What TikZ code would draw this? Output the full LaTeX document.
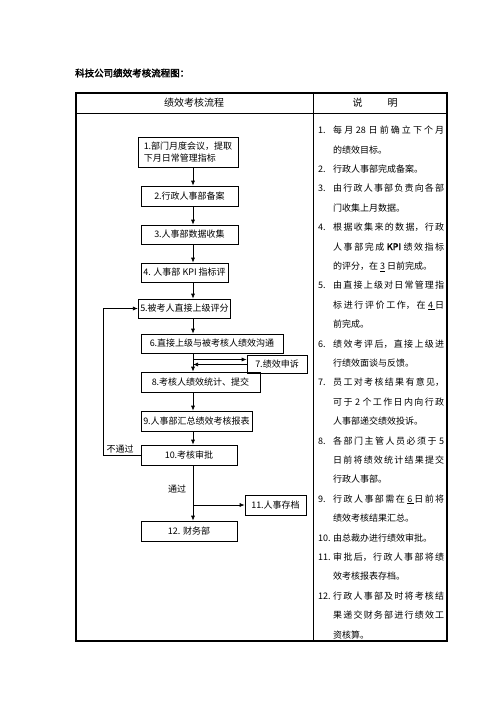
\documentclass[tikz,border=0pt]{standalone}
\usepackage{amsmath, amssymb}
\usepackage{xcolor}
\usepackage{fontspec}
\setmainfont{Noto Sans CJK SC}[BoldFont={Noto Sans CJK SC},BoldFeatures={FakeBold=2.5}]
\usepackage{tikz}
\usetikzlibrary{positioning, arrows.meta}
\XeTeXlinebreaklocale "zh"
\XeTeXlinebreakskip=0pt plus 3pt
\newcommand{\noteitem}[1]{\par\hangindent=15pt\hangafter=1\noindent\makebox[15pt][l]{#1}}

\begin{document}
\begin{tikzpicture}[x=1pt,y=-1pt]
	\tikzstyle{stepbox}=[draw=black,line width=0.6pt,inner sep=2pt,font=\fontsize{9}{12}\selectfont]
	\tikzstyle{flow}=[-{Latex[length=5pt,width=4pt]},line width=0.7pt]
	\useasboundingbox (0,0) rectangle (496,702);
	\node[anchor=west,inner sep=0pt,font=\fontsize{9.5}{12}\selectfont\bfseries](title) at (75,73){科技公司绩效考核流程图：};
	\draw[line width=0.6pt] (76,113) -- (447,113) (313,93) -- (313,641);
	\draw[line width=1.5pt] (76,93) rectangle (447,641);
	\node[font=\fontsize{10}{12}\selectfont](h1) at (194,103){绩效考核流程};
	\node[font=\fontsize{10}{12}\selectfont](h2) at (375,103){说\hspace{25pt}明};
	\coordinate (sp) at (193,0);
	\coordinate (lp) at (103,0);
	\node[stepbox,minimum width=100pt,minimum height=30pt,align=left](s1) at (188,152){1.部门月度会议，提取\\下月日常管理指标};
	\node[stepbox,minimum width=97pt,minimum height=20pt](s2) at (189.5,196){2.行政人事部备案};
	\node[stepbox,minimum width=97pt,minimum height=19pt](s3) at (189.5,234.5){3.人事部数据收集};
	\node[stepbox,minimum width=87pt,minimum height=19pt](s4) at (184.5,272.5){4. 人事部 KPI 指标评};
	\node[stepbox,minimum width=87pt,minimum height=19pt](s5) at (184.5,308.5){5.被考人直接上级评分};
	\node[stepbox,minimum width=142pt,minimum height=19pt](s6) at (212,343.5){6.直接上级与被考核人绩效沟通};
	\node[stepbox,minimum width=60pt,minimum height=18pt](s7) at (277,364){7.绩效申诉};
	\node[stepbox,minimum width=119pt,minimum height=20pt](s8) at (200.5,382){8.考核人绩效统计、提交};
	\node[stepbox,minimum width=111pt,minimum height=20pt](s9) at (196.5,421){9.人事部汇总绩效考核报表};
	\node[stepbox,minimum width=96pt,minimum height=20pt](s10) at (189,455){10.考核审批};
	\node[stepbox,minimum width=61pt,minimum height=20pt](s11) at (275.5,505){11.人事存档};
	\node[stepbox,minimum width=96pt,minimum height=20pt](s12) at (189,531){12. 财务部};
	\node[font=\fontsize{9}{12}\selectfont](no) at (120,449){不通过};
	\node[font=\fontsize{9}{12}\selectfont](yes) at (177,489){通过};
	\coordinate (a7) at (193,359.5);
	\coordinate (r7) at (193,364.5);
	\path[flow]
		(s1.south -| sp) edge (s2.north -| sp)
		(s2.south -| sp) edge (s3.north -| sp)
		(s3.south -| sp) edge (s4.north -| sp)
		(s4.south -| sp) edge (s5.north -| sp)
		(s5.south -| sp) edge (s6.north -| sp)
		(s6.south -| sp) edge (s8.north -| sp)
		(a7) edge (a7 -| s7.west)
		(r7 -| s7.west) edge (r7)
		(s8.south -| sp) edge (s9.north -| sp)
		(s9.south -| sp) edge (s10.north -| sp)
		(s10.south -| sp) edge (s12.north -| sp)
		(s11.west -| sp) edge (s11.west);
	\draw[flow] (s10.west) -- (s10.west -| lp) |- (s5.west);
	\node[anchor=north west,inner sep=0pt,text width=126pt,align=justify,font=\fontsize{9}{19.4}\selectfont](notes) at (318,114){%
		\noteitem{1.}每月 28 日前确立下个月\linebreak 的绩效目标。
		\noteitem{2.}行政人事部完成备案。
		\noteitem{3.}由行政人事部负责向各部\linebreak 门收集上月数据。
		\noteitem{4.}根据收集来的数据，行政\linebreak 人事部完成 \textbf{KPI} 绩效指标\linebreak 的评分，在 \underline{3} 日前完成。
		\noteitem{5.}由直接上级对日常管理指\linebreak 标进行评价工作，在 \underline{4\ }日\linebreak 前完成。
		\noteitem{6.}绩效考评后，直接上级进\linebreak 行绩效面谈与反馈。
		\noteitem{7.}员工对考核结果有意见，\linebreak 可于 2 个工作日内向行政\linebreak 人事部递交绩效投诉。
		\noteitem{8.}各部门主管人员必须于 5\linebreak 日前将绩效统计结果提交\linebreak 行政人事部。
		\noteitem{9.}行政人事部需在 \underline{6\ }日前将\linebreak 绩效考核结果汇总。
		\noteitem{10.}由总裁办进行绩效审批。
		\noteitem{11.}审批后，行政人事部将绩\linebreak 效考核报表存档。
		\noteitem{12.}行政人事部及时将考核结\linebreak 果递交财务部进行绩效工\linebreak 资核算。\par};
\end{tikzpicture}
\end{document}
